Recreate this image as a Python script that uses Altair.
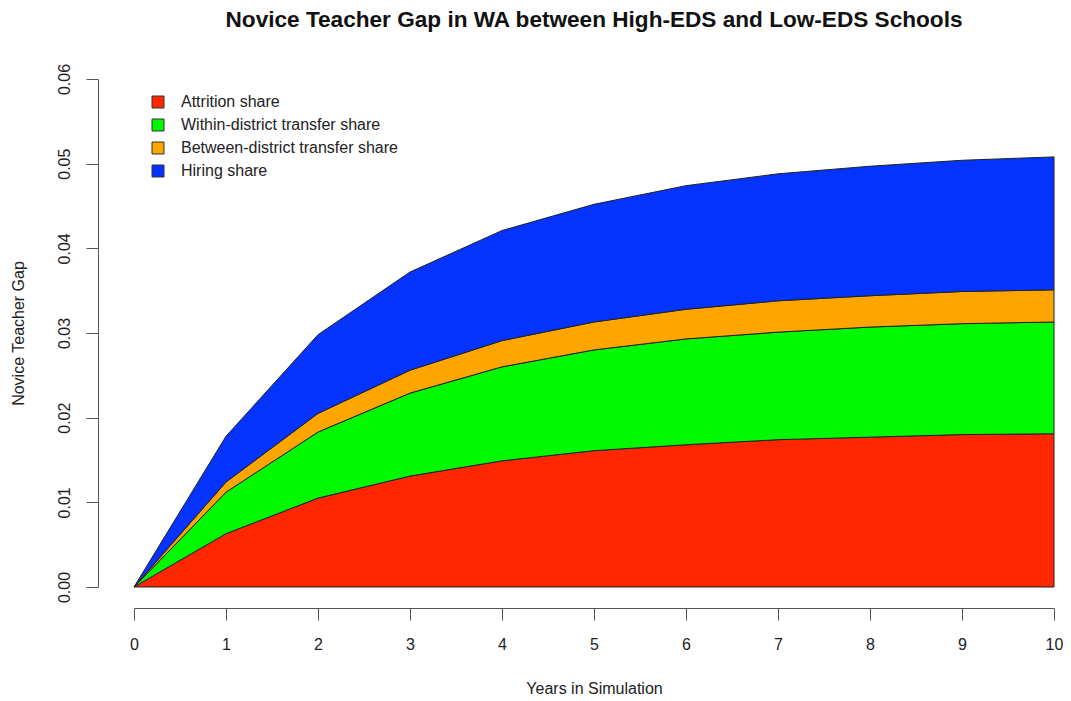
import altair as alt
import pandas as pd

years = [0, 1, 2, 3, 4, 5, 6, 7, 8, 9, 10]
attrition = [0, 0.0063, 0.0105, 0.0131, 0.0149, 0.0161, 0.0168, 0.0174, 0.0177, 0.0180, 0.0181]
within = [0, 0.0049, 0.0078, 0.0098, 0.0111, 0.0119, 0.0125, 0.0127, 0.0130, 0.0131, 0.0132]
between = [0, 0.0012, 0.0022, 0.0027, 0.0031, 0.0033, 0.0035, 0.0037, 0.0037, 0.0038, 0.0038]
hiring = [0, 0.0054, 0.0093, 0.0116, 0.0130, 0.0139, 0.0146, 0.0150, 0.0153, 0.0155, 0.0157]

series_names = ["Attrition share", "Within-district transfer share",
                "Between-district transfer share", "Hiring share"]
series_values = [attrition, within, between, hiring]
colors = ["#FF2600", "#00F900", "#FFA500", "#0433FF"]

rows = []
for k, (name, vals) in enumerate(zip(series_names, series_values)):
    for yr, v in zip(years, vals):
        rows.append({"year": yr, "value": v, "series": name, "ord": k})
df = pd.DataFrame(rows)

font = "Liberation Sans"

chart = alt.Chart(df).mark_area(
    stroke="#222222", strokeWidth=1, interpolate="linear", opacity=1
).encode(
    x=alt.X("year:Q", scale=alt.Scale(domain=[0, 10], nice=False, zero=False),
            axis=alt.Axis(title="Years in Simulation", values=years, format="d",
                          offset=21, grid=False, tickSize=12, labelPadding=16,
                          labelFlush=False, titlePadding=28,
                          domainColor="#555555", tickColor="#555555")),
    y=alt.Y("value:Q", stack="zero",
            scale=alt.Scale(domain=[0, 0.06], nice=False),
            axis=alt.Axis(title="Novice Teacher Gap", values=[0, 0.01, 0.02, 0.03, 0.04, 0.05, 0.06],
                          format=".2f", offset=36, grid=False, tickSize=12,
                          labelAngle=270, labelAlign="center", labelBaseline="bottom",
                          labelFlush=False, labelPadding=14, titlePadding=30,
                          domainColor="#555555", tickColor="#555555")),
    color=alt.Color("series:N",
                    scale=alt.Scale(domain=series_names, range=colors),
                    legend=alt.Legend(title=None, orient="none", legendX=16, legendY=15,
                                      symbolType="square", symbolSize=144,
                                      symbolStrokeColor="#333333", symbolStrokeWidth=1,
                                      symbolOpacity=1, labelFontSize=16, labelFont=font,
                                      labelColor="#222222", rowPadding=7, labelOffset=15,
                                      labelLimit=0, padding=0)),
    order=alt.Order("ord:Q", sort="ascending"),
).properties(
    width=920, height=508,
    title=alt.TitleParams("Novice Teacher Gap in WA between High-EDS and Low-EDS Schools",
                          fontSize=22.6, font=font, fontWeight="bold", color="#111111",
                          anchor="middle", offset=32),
    padding={"left": 126, "top": 71, "right": 9, "bottom": 112},
    autosize=alt.AutoSizeParams(type="none"),
).configure_axis(
    labelFont=font, titleFont=font, labelFontSize=16, titleFontSize=16,
    labelColor="#222222", titleColor="#222222", titleFontWeight="normal",
).configure_view(stroke=None)

chart.save("out.html", embed_options={"renderer": "svg", "actions": False})
